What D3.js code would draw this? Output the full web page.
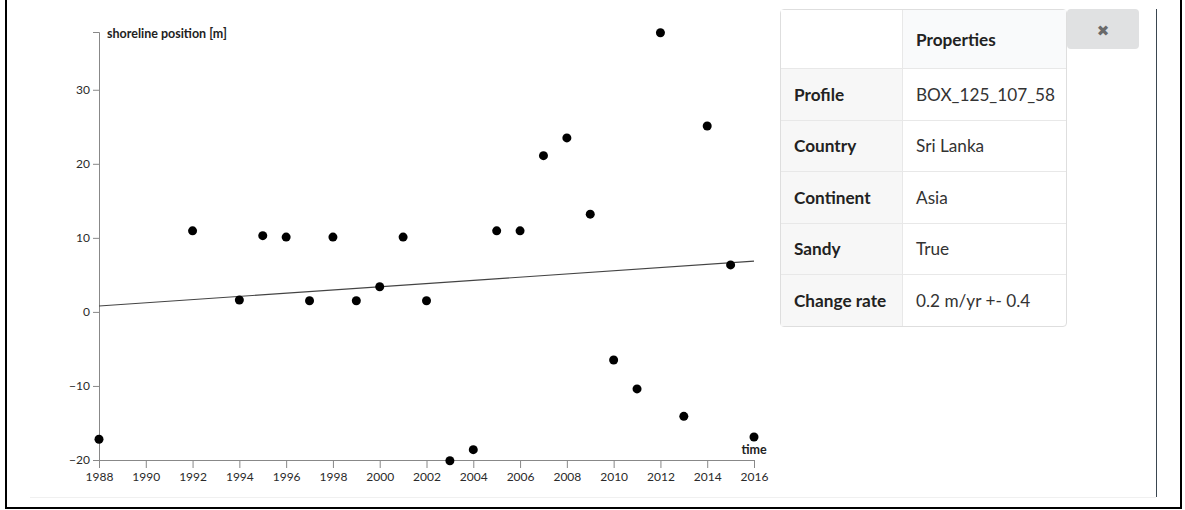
<!DOCTYPE html>
<html>
<head>
<meta charset="utf-8">
<script src="https://cdn.jsdelivr.net/npm/d3@7"></script>
<style>
body { margin: 0; width: 1185px; height: 510px; overflow: hidden; background: #fff; font-family: Lato, sans-serif; position: relative; }
.frame { position: absolute; left: 5px; top: -10px; width: 1177px; height: 519px; border: 2px solid #000; box-sizing: border-box; }
.panel-edge { position: absolute; left: 1156px; top: 9px; width: 1px; height: 488px; background: #3a4650; }
.panel-floor { position: absolute; left: 30px; top: 497px; width: 1126px; height: 1px; background: #f0f0f0; }
svg { position: absolute; left: 0; top: 0; }
.axis path, .axis line { stroke: #888; }
.axis text { fill: #2a2a2a; font: 12px Lato, sans-serif; }
.props { position: absolute; left: 780px; top: 9px; border-collapse: separate; border-spacing: 0; border: 1px solid #dedede; border-radius: 4px; font-size: 17.2px; color: #222; table-layout: fixed; width: 287px; }
.props td, .props th { padding: 0 0 0 13px; text-align: left; border-top: 1px solid #e8e8e8; white-space: nowrap; }
.props th { height: 58px; font-weight: bold; background: #f9fafb; border-top: none; }
.props th.blank { background: #fff; border-right: 1px solid #e8e8e8; width: 108px; }
.props td { height: 50.5px; }
.props td.key { font-weight: bold; background: #f7f7f7; border-right: 1px solid #e8e8e8; }
.props td.val { color: #333; }
.close { position: absolute; left: 1067px; top: 9px; width: 72px; height: 40px; background: #e0e1e2; border-radius: 4px; color: #6a6a6a; font: 15px "DejaVu Sans", sans-serif; text-align: center; line-height: 44px; }
</style>
</head>
<body>
<div class="frame"></div>
<div class="panel-edge"></div>
<div class="panel-floor"></div>
<div id="chart"></div>
<div class="close">✖</div>
<script>
// shoreline positions per year
const years = [1988, 1992, 1994, 1995, 1996, 1997, 1998, 1999, 2000, 2001, 2002, 2003, 2004, 2005, 2006, 2007, 2008, 2009, 2010, 2011, 2012, 2013, 2014, 2015, 2016];
const positions = [-17.2, 10.95, 1.6, 10.3, 10.1, 1.5, 10.1, 1.5, 3.4, 10.1, 1.5, -20.1, -18.6, 10.95, 10.95, 21.1, 23.5, 13.2, -6.5, -10.4, 37.7, -14.1, 25.1, 6.35, -16.9];

// fitted trend, value at first and last year
const trendYears = [1988, 2016];
const trendValues = [0.8, 6.85];

const xTicks = [1988, 1990, 1992, 1994, 1996, 1998, 2000, 2002, 2004, 2006, 2008, 2010, 2012, 2014, 2016];
const yTicks = [-20, -10, 0, 10, 20, 30];
const yExtent = [-20, 37.8];

const propertyNames = ["Profile", "Country", "Continent", "Sandy", "Change rate"];
const propertyValues = ["BOX_125_107_58", "Sri Lanka", "Asia", "True", "0.2 m/yr +- 0.4"];

const svg = d3.select("#chart").append("svg")
    .attr("width", 780)
    .attr("height", 500);

const x = d3.scaleLinear().domain(d3.extent(years)).range([99, 754]);
const y = d3.scaleLinear().domain(yExtent).range([460, 32]);

svg.append("g")
    .attr("class", "axis")
    .attr("transform", "translate(0,460)")
    .call(d3.axisBottom(x).tickValues(xTicks).tickFormat(d3.format("d")).tickSize(8).tickPadding(4));

svg.append("g")
    .attr("class", "axis")
    .attr("transform", "translate(99,0)")
    .call(d3.axisLeft(y).tickValues(yTicks).tickSize(6).tickPadding(3));

svg.append("text")
    .attr("x", 107).attr("y", 38)
    .style("font", "bold 12.5px Lato, sans-serif")
    .attr("fill", "#222")
    .text("shoreline position [m]");

svg.append("text")
    .attr("x", x(2016)).attr("y", 454)
    .attr("text-anchor", "middle")
    .style("font", "bold 12.5px Lato, sans-serif")
    .attr("fill", "#222")
    .text("time");

const line = d3.line().x(d => x(d[0])).y(d => y(d[1]));
svg.append("path")
    .datum(d3.zip(trendYears, trendValues))
    .attr("fill", "none")
    .attr("stroke", "#444")
    .attr("stroke-width", 1.2)
    .attr("d", line);

svg.selectAll(".dot")
    .data(d3.zip(years, positions))
    .enter().append("circle")
    .attr("class", "dot")
    .attr("cx", d => x(d[0]))
    .attr("cy", d => y(d[1]))
    .attr("r", 4.5)
    .attr("fill", "#000");

// properties table
const table = d3.select("body").append("table").attr("class", "props");
const head = table.append("tr");
head.append("th").attr("class", "blank");
head.append("th").text("Properties");
const rows = table.selectAll(".row")
    .data(d3.zip(propertyNames, propertyValues))
    .enter().append("tr")
    .attr("class", "row");
rows.append("td").attr("class", "key").text(d => d[0]);
rows.append("td").attr("class", "val").text(d => d[1]);
</script>
</body>
</html>
